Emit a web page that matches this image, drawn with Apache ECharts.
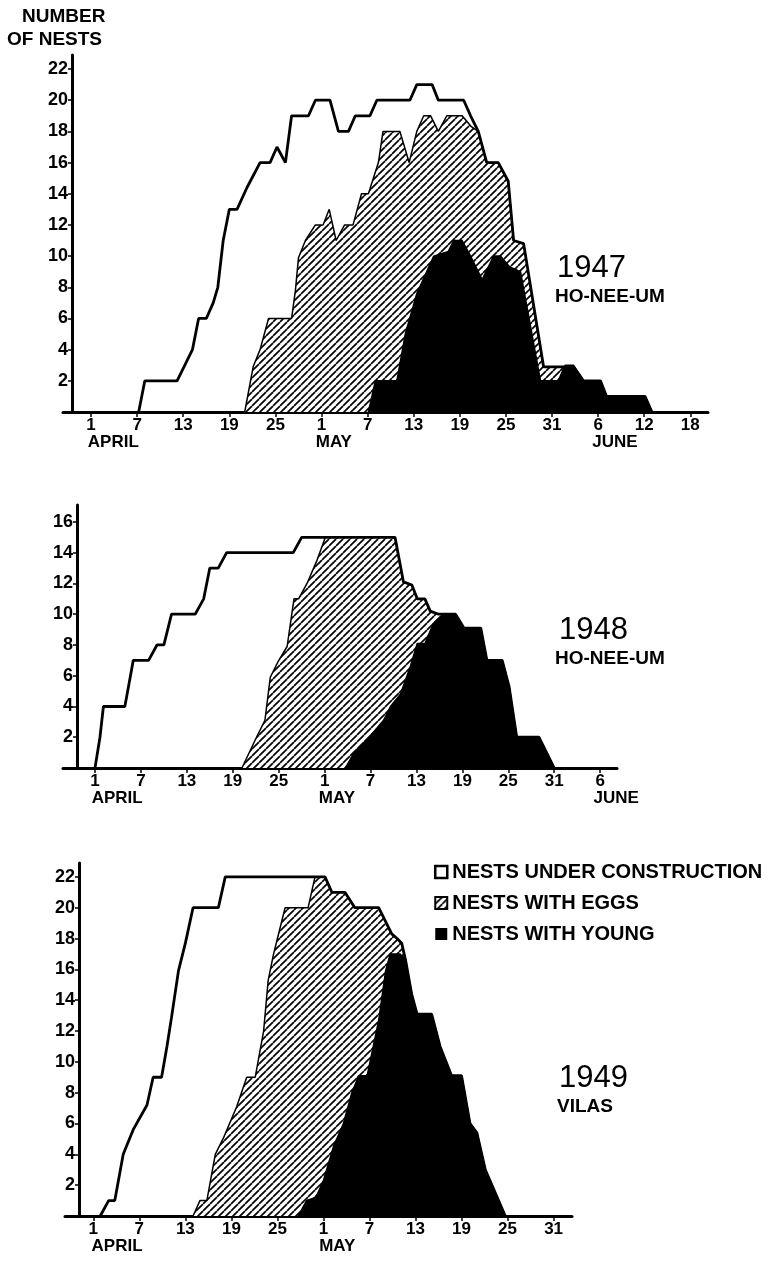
<!DOCTYPE html>
<html>
<head>
<meta charset="utf-8">
<title>Nests under construction, with eggs, with young</title>
<script src="https://cdn.jsdelivr.net/npm/echarts@6/dist/echarts.min.js"></script>
<style>
  html, body { margin: 0; padding: 0; background: #fff; }
  #chart { width: 772px; height: 1264px; }
</style>
</head>
<body>
<div id="chart"></div>
<script>
// x = days counted from April 1 (April 1 = 0, May 1 = 30, June 1 = 61)
// each series is the outline of a layer: all active nests, nests with eggs or young, nests with young

// 1947 Ho-Nee-Um
const total1947 = [[6.2,0],[7,2],[11.2,2],[12.4,3.2],[13.2,4],[14,6],[15,6],[15.9,7],[16.5,8],[17.2,11],[18,13],[19,13],[20.3,14.4],[22,16],[23.3,16],[24.2,17],[25.3,16],[26.1,19],[28.3,19],[29.2,20],[31.1,20],[32.2,18],[33.5,18],[34.4,19],[36.3,19],[37.2,20],[41.5,20],[42.4,21],[44.4,21],[45.2,20],[48.5,20],[49.4,19],[50.4,18],[51.5,16],[53,16],[54.3,14.8],[55,11],[56.3,10.8],[58.9,2.9],[62.8,2.9],[64.1,2],[66.3,2],[67.1,1],[72.1,1],[73,0]]
const eggs1947 = [[20,0],[21.1,2.9],[22,4],[23.1,6],[26.1,6],[26.6,7.8],[27,9.9],[27.9,11],[29.2,12],[30.2,12],[31,13],[31.9,11],[33,12],[34.1,12],[35.2,14],[36.1,14],[37.4,16],[38,18],[40.2,18],[41.4,16],[42.4,18],[43.3,19],[44.2,19],[45.2,18],[46.3,19],[48.3,19],[49.5,18.3],[50.4,18],[51.5,16],[53,16],[54.3,14.8],[55,11],[56.3,10.8],[58.9,2.9],[62.8,2.9],[64.1,2],[66.3,2],[67.1,1],[72.1,1],[73,0]]
const young1947 = [[36.1,0],[37,2],[39.8,2],[40.9,5],[42.4,7.6],[44.6,10],[46.5,10.3],[47.2,11],[48.3,11],[49.4,10],[50.9,8.5],[52.4,10],[53.3,10],[54.5,9.3],[55.9,9],[58.5,2],[60.8,2],[61.7,3],[62.8,3],[64.1,2],[66.3,2],[67.1,1],[72.1,1],[73,0]]

// 1948 Ho-Nee-Um
const total1948 = [[0,0],[0.65,2],[1.1,4],[3.9,4],[4.6,5.9],[5,7],[7,7],[8.1,8],[9,8],[10,10],[13.1,10],[14.2,11],[15,13],[16.1,13],[17.2,14],[25.9,14],[27,15],[39.2,15],[40.3,12.1],[41.4,11.9],[42.1,11],[43.1,11],[43.8,10.2],[44.9,10],[47.1,10],[48.2,9.1],[50.4,9.1],[51.2,7],[53.2,7],[54.1,5.3],[55.1,2],[58,2],[60,0]]
const eggs1948 = [[19.2,0],[21.1,2],[22.2,3.1],[22.9,5.9],[23.9,6.9],[25.1,7.9],[26,11],[26.6,11],[27.7,12],[29,13.5],[30.1,15],[39.2,15],[40.3,12.1],[41.4,11.9],[42.1,11],[43.1,11],[43.8,10.2],[44.9,10],[47.1,10],[48.2,9.1],[50.4,9.1],[51.2,7],[53.2,7],[54.1,5.3],[55.1,2],[58,2],[60,0]]
const young1948 = [[32.7,0],[33.8,0.95],[35.5,1.8],[37.7,3.1],[38.6,4],[39.9,4.8],[41.2,6.6],[42.1,8.1],[43.1,8.1],[44.2,9.4],[45.5,10],[47.1,10],[48.2,9.1],[50.4,9.1],[51.2,7],[53.2,7],[54.1,5.3],[55.1,2],[58,2],[60,0]]

// 1949 Vilas
const total1949 = [[0.9,0],[2,1],[2.8,1],[3.9,4],[5.2,5.6],[7,7.2],[7.8,9],[8.9,9],[9.6,11],[10.2,12.9],[11.1,15.9],[12,17.7],[13,20],[16.3,20],[17.2,22],[30.2,22],[31.1,21],[32.8,21],[34.1,20],[37.2,20],[38.9,18.3],[39.6,18],[40.2,17.7],[40.7,16.6],[41.5,14.4],[42.2,13.1],[44.1,13.1],[45.2,11],[46.7,9.1],[48,9.1],[49.1,6],[50,5.4],[51.1,3],[53.7,0]]
const eggs1949 = [[13,0],[13.9,1],[14.8,1],[15.9,4],[17,5.1],[18.7,7.1],[20,9],[21.1,9],[22.2,12],[22.8,15.3],[23.5,17],[25,20],[28,20],[28.9,22],[30.2,22],[31.1,21],[32.8,21],[34.1,20],[37.2,20],[38.9,18.3],[39.6,18],[40.2,17.7],[40.7,16.6],[41.5,14.4],[42.2,13.1],[44.1,13.1],[45.2,11],[46.7,9.1],[48,9.1],[49.1,6],[50,5.4],[51.1,3],[53.7,0]]
const young1949 = [[26.7,0],[27.8,1],[29,1.2],[30,2.3],[31.3,4.5],[32.6,6],[33.7,8],[34.6,9.1],[35.7,9.1],[37.2,12.7],[38.1,15.9],[38.7,17],[40,17],[40.7,16.6],[41.5,14.4],[42.2,13.1],[44.1,13.1],[45.2,11],[46.7,9.1],[48,9.1],[49.1,6],[50,5.4],[51.1,3],[53.7,0]]

// axis ticks and labels
const tickDays1947 = [0,6,12,18,24,30,36,42,48,54,60,66,72,78]
const tickLabels1947 = ['1','7','13','19','25','1','7','13','19','25','31','6','12','18']
const tickDays1948 = [0,6,12,18,24,30,36,42,48,54,60,66]
const tickLabels1948 = ['1','7','13','19','25','1','7','13','19','25','31','6']
const tickDays1949 = [0,6,12,18,24,30,36,42,48,54,60]
const tickLabels1949 = ['1','7','13','19','25','1','7','13','19','25','31']
const monthNames = ['APRIL','MAY','JUNE']
const monthDays1947 = [2.9,31.6,68.2]
const monthDays1948 = [2.9,31.6,68.1]
const monthDays1949 = [3.1,31.8]
const yTicks22 = [2,4,6,8,10,12,14,16,18,20,22]
const yTicks16 = [2,4,6,8,10,12,14,16]

const legendNames = ['NESTS UNDER CONSTRUCTION','NESTS WITH EGGS','NESTS WITH YOUNG']
const FONT = '"Liberation Sans", Arial, sans-serif'

// diagonal hatching used for "nests with eggs"
function hatchPattern () {
  const c = document.createElement('canvas')
  const s = 7
  c.width = s
  c.height = s
  const g = c.getContext('2d')
  g.fillStyle = '#fff'
  g.fillRect(0, 0, s, s)
  g.strokeStyle = '#000'
  g.lineWidth = 1.7
  for (const k of [-s, 0, s]) {
    g.beginPath()
    g.moveTo(k, s)
    g.lineTo(k + s, 0)
    g.stroke()
  }
  return c
}
const hatch = { image: hatchPattern(), repeat: 'repeat' }

// one panel: grid + day axis + month axis + count axis
const panels = [
  { grid: { left: 63, right: 64, top: 55, bottom: 852 }, xMin: -3.65, xMax: 80.3, yMax: 22.9, yOffset: -9,
    ticks: tickDays1947, labels: tickLabels1947, months: monthDays1947, yTicks: yTicks22,
    total: total1947, eggs: eggs1947, young: young1947 },
  { grid: { left: 63, right: 155, top: 505, bottom: 496 }, xMin: -4.18, xMax: 68.2, yMax: 17.1, yOffset: -14,
    ticks: tickDays1948, labels: tickLabels1948, months: monthDays1948, yTicks: yTicks16,
    total: total1948, eggs: eggs1948, young: young1948 },
  { grid: { left: 65, right: 200, top: 863, bottom: 48 }, xMin: -3.69, xMax: 62.4, yMax: 22.9, yOffset: -14,
    ticks: tickDays1949, labels: tickLabels1949, months: monthDays1949, yTicks: yTicks22,
    total: total1949, eggs: eggs1949, young: young1949 }
]

const grid = []
const xAxis = []
const yAxis = []
const series = []
const axisLine = { show: true, onZero: false, lineStyle: { color: '#000', width: 3 } }

panels.forEach(function (p, i) {
  grid.push(p.grid)
  // day numbers
  xAxis.push({
    type: 'value', gridIndex: i, min: p.xMin, max: p.xMax,
    axisLine: axisLine,
    splitLine: { show: false },
    axisTick: { show: true, length: 5, customValues: p.ticks, lineStyle: { color: '#000', width: 1.5 } },
    axisLabel: {
      customValues: p.ticks, margin: 5, color: '#000', fontFamily: FONT, fontWeight: 'bold', fontSize: 17,
      formatter: function (v) {
        const k = p.ticks.indexOf(v)
        return k >= 0 ? p.labels[k] : ''
      }
    }
  })
  // month names
  xAxis.push({
    type: 'value', gridIndex: i, min: p.xMin, max: p.xMax, position: 'bottom',
    axisLine: { show: false }, axisTick: { show: false }, splitLine: { show: false },
    axisLabel: {
      customValues: p.months, margin: 22, color: '#000', fontFamily: FONT, fontWeight: 'bold', fontSize: 17,
      formatter: function (v) {
        const k = p.months.indexOf(v)
        return k >= 0 ? monthNames[k] : ''
      }
    }
  })
  yAxis.push({
    type: 'value', gridIndex: i, min: 0, max: p.yMax, offset: p.yOffset,
    axisLine: axisLine,
    splitLine: { show: false },
    axisTick: { show: true, length: 4, customValues: p.yTicks, lineStyle: { color: '#000', width: 1.5 } },
    axisLabel: { customValues: p.yTicks, margin: 4, color: '#000', fontFamily: FONT, fontWeight: 'bold', fontSize: 18 }
  })
  const common = { type: 'line', xAxisIndex: i * 2, yAxisIndex: i, showSymbol: false, symbol: 'none', silent: true }
  series.push(Object.assign({}, common, {
    name: legendNames[1], data: p.eggs,
    itemStyle: { color: hatch, borderColor: '#000', borderWidth: 1.5 },
    lineStyle: { color: '#000', width: 1.5 },
    areaStyle: { color: hatch, opacity: 1 }
  }))
  series.push(Object.assign({}, common, {
    name: legendNames[2], data: p.young,
    itemStyle: { color: '#000' },
    lineStyle: { color: '#000', width: 1.5 },
    areaStyle: { color: '#000', opacity: 1 }
  }))
  series.push(Object.assign({}, common, {
    name: legendNames[0], data: p.total,
    itemStyle: { color: '#fff', borderColor: '#000', borderWidth: 2 },
    lineStyle: { color: '#000', width: 2.8 }
  }))
})

const chart = echarts.init(document.getElementById('chart'))
chart.setOption({
  animation: false,
  backgroundColor: '#fff',
  grid: grid,
  xAxis: xAxis,
  yAxis: yAxis,
  series: series,
  legend: {
    left: 429, top: 857, orient: 'vertical', icon: 'rect',
    itemWidth: 12, itemHeight: 12, itemGap: 11, selectedMode: false,
    textStyle: { color: '#000', fontFamily: FONT, fontWeight: 'bold', fontSize: 20 },
    data: [
      { name: legendNames[0], itemStyle: { color: '#fff', borderColor: '#000', borderWidth: 2.5 } },
      { name: legendNames[1], itemStyle: { color: hatch, borderColor: '#000', borderWidth: 2 } },
      { name: legendNames[2], itemStyle: { color: '#000', borderWidth: 0 } }
    ]
  },
  graphic: [
    { type: 'text', left: 22, top: 7, style: { text: 'NUMBER', fill: '#000', font: 'bold 19px ' + FONT } },
    { type: 'text', left: 7, top: 30, style: { text: 'OF NESTS', fill: '#000', font: 'bold 19px ' + FONT } },
    { type: 'text', left: 557, top: 253, style: { text: '1947', fill: '#000', font: '31px ' + FONT } },
    { type: 'text', left: 555, top: 287, style: { text: 'HO-NEE-UM', fill: '#000', font: 'bold 19px ' + FONT } },
    { type: 'text', left: 559, top: 615, style: { text: '1948', fill: '#000', font: '31px ' + FONT } },
    { type: 'text', left: 555, top: 649, style: { text: 'HO-NEE-UM', fill: '#000', font: 'bold 19px ' + FONT } },
    { type: 'text', left: 559, top: 1063, style: { text: '1949', fill: '#000', font: '31px ' + FONT } },
    { type: 'text', left: 557, top: 1097, style: { text: 'VILAS', fill: '#000', font: 'bold 19px ' + FONT } }
  ]
})
</script>
</body>
</html>
